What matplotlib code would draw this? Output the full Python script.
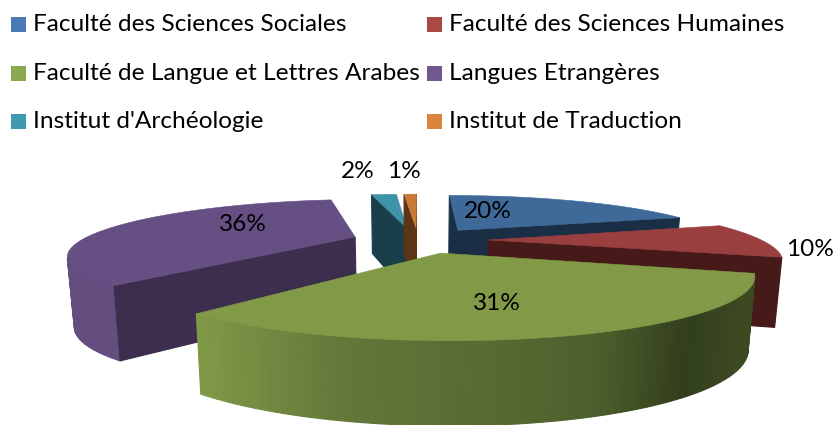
import numpy as np
import matplotlib
matplotlib.use("Agg")
import matplotlib.pyplot as plt
from matplotlib.patches import Polygon, Rectangle

# ---- data ----
categories = ["Faculté des Sciences Sociales", "Faculté des Sciences Humaines",
              "Faculté de Langue et Lettres Arabes", "Langues Etrangères",
              "Institut d'Archéologie", "Institut de Traduction"]
shares = [20, 10, 31, 36, 2, 1]
pct_labels = ["20%", "10%", "31%", "36%", "2%", "1%"]

# ---- style ----
legend_colors = ["#4a7ab5", "#a94845", "#8aa84f", "#71588f", "#4099b1", "#db843d"]
top_colors = ["#3f6998", "#9a3f3f", "#829a47", "#664f82", "#3d93a9", "#c97a37"]
side_colors = ["#1a2e46", "#451a19", "#3c4a22", "#3d2e4e", "#1a3f4b", "#5c3517"]
rim_colors = ["#1a2e46", "#4a1b1a", None, "#654d80", "#1a3f4b", "#5c3517"]
green_ramp_x = [197, 340, 500, 600, 690, 745]
green_ramp_c = ["#819a47", "#65783a", "#566a31", "#4e5f2d", "#323e1c", "#3c4a22"]
label_xy = [(488, 211), (810, 250), (497, 303), (243, 224), (358, 171), (404, 171)]
explode = 0.25
nudge_x = [0, 0, 0, 0, -5, -2]
draw_order = [4, 5, 3, 0, 1, 2]
CX, CY, F, G, K = 420, 240, 273, 50.6, 0.304
FONT = "Lato"

plt.rcParams["font.family"] = [FONT, "DejaVu Sans"]
fig = plt.figure(figsize=(8.35, 4.25), dpi=100)
ax = fig.add_axes([0, 0, 1, 1])
ax.set_xlim(0, 835); ax.set_ylim(425, 0); ax.axis("off")


def project(X, Y, bottom=False, dx=0):
    s = 1 / (1 + K * Y)
    x = CX + F * X * s
    y = CY - G * Y * s
    if bottom:
        y = y + 37 + 30 * s
        x = CX + (x - CX) * 0.98
    return x + dx, y


def hex2rgb(c):
    return np.array(matplotlib.colors.to_rgb(c))


def ramp(x):
    cols = np.array([hex2rgb(c) for c in green_ramp_c])
    return tuple(np.interp(x, green_ramp_x, cols[:, i]) for i in range(3))


def area(pts):
    p = np.asarray(pts)
    return 0.5 * np.sum(p[:, 0] * np.roll(p[:, 1], -1) - np.roll(p[:, 0], -1) * p[:, 1])


def quad(a, b, c, z, dx):
    # camera-facing faces wind one way on screen (clockwise angle, y down)
    pts = [project(*a, dx=dx), project(*b, dx=dx), project(*b, True, dx), project(*a, True, dx)]
    if area(pts) < 0:
        ax.add_patch(Polygon(pts, closed=True, fc=c, ec=c, lw=0.8, zorder=z))


edges = np.concatenate([[0], np.cumsum(shares)]) * 360.0 / np.sum(shares)
z = 1
for i in draw_order:
    a0, a1 = np.radians(edges[i]), np.radians(edges[i + 1])
    mid = (a0 + a1) / 2
    ox, oy = explode * np.sin(mid), explode * np.cos(mid)
    th = np.linspace(a0, a1, max(3, int((a1 - a0) / np.radians(1.2))))
    ring = [(ox + np.sin(t), oy + np.cos(t)) for t in th]
    apex = (ox, oy)
    dx = nudge_x[i]
    for p, q in zip(ring[:-1], ring[1:]):
        c = rim_colors[i]
        if c is None:
            c = ramp(project(*p)[0])
        quad(p, q, c, z, dx)
    z += 1
    quad(apex, ring[0], side_colors[i], z, dx); z += 1
    quad(ring[-1], apex, side_colors[i], z, dx); z += 1
    top = [project(*apex, dx=dx)] + [project(*r, dx=dx) for r in ring]
    ax.add_patch(Polygon(top, closed=True, fc=top_colors[i], ec=top_colors[i], lw=0.4, zorder=z))
    z += 1

for t, (x, y) in zip(pct_labels, label_xy):
    ax.text(x, y, t, ha="center", va="center", fontsize=17.6, color="#000000", zorder=z)

col_x = [11, 427]
row_y = [24.5, 73.5, 121.5]
for i, name in enumerate(categories):
    x = col_x[i % 2]; y = row_y[i // 2]
    ax.add_patch(Rectangle((x, y - 7.5), 15, 15, fc=legend_colors[i], ec="none", zorder=z))
    ax.text(x + 22, y, name, ha="left", va="center", fontsize=17.6, color="#000000", zorder=z)

fig.savefig("out.png", dpi=100)
